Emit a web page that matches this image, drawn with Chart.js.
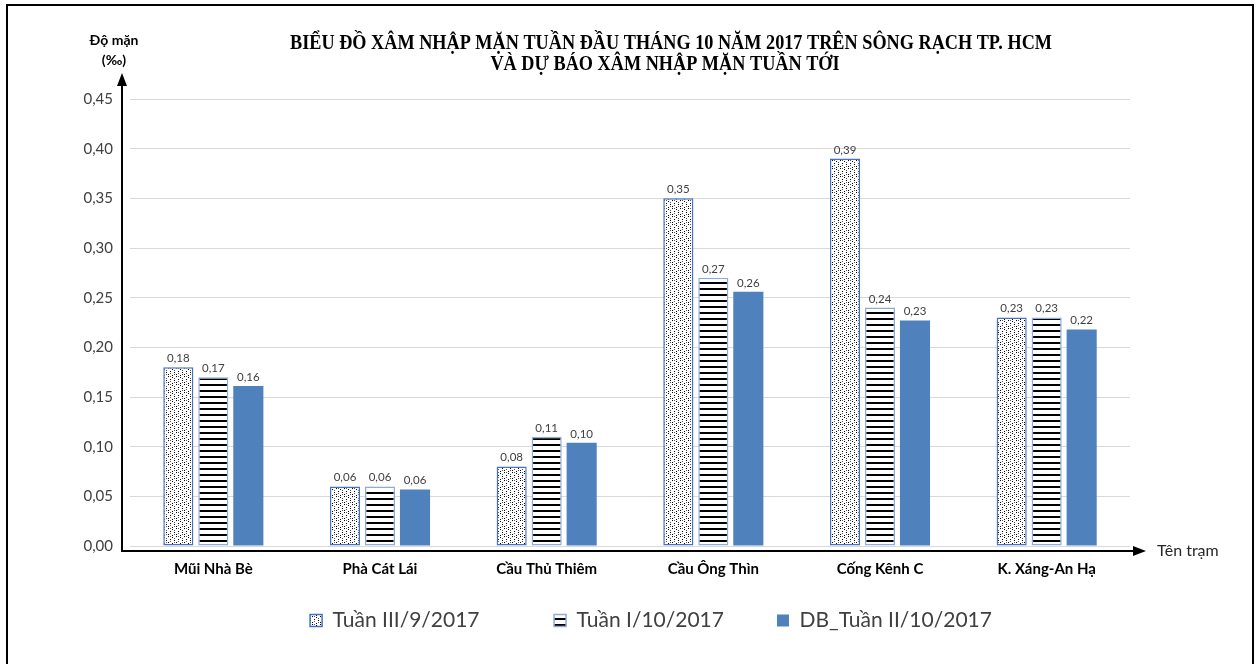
<!DOCTYPE html>
<html>
<head>
<meta charset="utf-8">
<script src="https://cdn.jsdelivr.net/npm/chart.js@4.4.0/dist/chart.umd.min.js"></script>
<style>
  html, body { margin: 0; padding: 0; background: #fff; }
  #wrap { width: 1256px; height: 664px; position: relative; }
</style>
</head>
<body>
<div id="wrap"><canvas id="chart" width="1256" height="664"></canvas></div>
<script>
// Chart data
const stations = ['Mũi Nhà Bè', 'Phà Cát Lái', 'Cầu Thủ Thiêm', 'Cầu Ông Thìn', 'Cống Kênh C', 'K. Xáng-An Hạ'];
const seriesNames = ['Tuần III/9/2017', 'Tuần I/10/2017', 'DB_Tuần II/10/2017'];
const week3Sep = [0.18, 0.06, 0.08, 0.35, 0.39, 0.23];
const week1Oct = [0.17, 0.06, 0.11, 0.27, 0.24, 0.23];
const forecastWeek2Oct = [0.161, 0.057, 0.104, 0.256, 0.227, 0.218];
const yTicks = [0, 0.05, 0.10, 0.15, 0.20, 0.25, 0.30, 0.35, 0.40, 0.45];

const titleLines = [
    'BIỂU ĐỒ XÂM NHẬP MẶN TUẦN ĐẦU THÁNG 10 NĂM 2017 TRÊN SÔNG RẠCH TP. HCM',
    'VÀ DỰ BÁO XÂM NHẬP MẶN TUẦN TỚI'
];

const FONT = 'Lato, "Liberation Sans", sans-serif';

// Fill patterns like the Excel ones
function dotPattern() {
    const c = document.createElement('canvas');
    c.width = 8; c.height = 8;
    const g = c.getContext('2d');
    g.fillStyle = '#fff';
    g.fillRect(0, 0, 8, 8);
    g.fillStyle = '#000';
    [[0, 0], [4, 1], [2, 3], [6, 4], [0, 6], [4, 7]].forEach(([x, y]) => g.fillRect(x, y, 1, 1));
    g.fillStyle = '#555';
    [[2, 0], [6, 2], [2, 5], [6, 6]].forEach(([x, y]) => g.fillRect(x, y, 1, 1));
    return g.createPattern(c, 'repeat');
}

function stripePattern() {
    const c = document.createElement('canvas');
    c.width = 6; c.height = 6;
    const g = c.getContext('2d');
    g.fillStyle = '#fff';
    g.fillRect(0, 0, 6, 6);
    g.fillStyle = '#000';
    g.fillRect(0, 0, 6, 2);
    return g.createPattern(c, 'repeat');
}

function fmt(v) {
    return v.toFixed(2).replace('.', ',');
}

// trailing spaces to spread the legend items like the original
const legendGaps = [12, 8, 0];

// Value labels above bars
const valueLabels = {
    id: 'valueLabels',
    afterDatasetsDraw(chart) {
        const ctx = chart.ctx;
        ctx.save();
        ctx.font = '11.5px ' + FONT;
        ctx.fillStyle = '#404040';
        ctx.textAlign = 'center';
        ctx.textBaseline = 'bottom';
        chart.data.datasets.forEach((ds, i) => {
            chart.getDatasetMeta(i).data.forEach((bar, j) => {
                ctx.fillText(fmt(ds.data[j]), bar.x, bar.y - 3);
            });
        });
        ctx.restore();
    }
};

// Title, axis arrows, axis captions and frame
const decorations = {
    id: 'decorations',
    afterDraw(chart) {
        const ctx = chart.ctx;
        ctx.save();

        // frame
        ctx.strokeStyle = '#000';
        ctx.lineWidth = 2;
        ctx.strokeRect(7, 5, 1246, 700);

        // title (condensed serif)
        ctx.fillStyle = '#000';
        ctx.textAlign = 'center';
        ctx.textBaseline = 'middle';
        ctx.font = 'bold 20px "Liberation Serif", serif';
        const sx = 762 / ctx.measureText(titleLines[0]).width;
        ctx.save();
        ctx.scale(sx, 1);
        ctx.fillText(titleLines[0], 671 / sx, 44);
        ctx.fillText(titleLines[1], 665 / sx, 65);
        ctx.restore();

        // axis arrows
        const ox = 122, oy = 551;
        ctx.lineWidth = 2;
        ctx.beginPath();
        ctx.moveTo(ox, oy);
        ctx.lineTo(ox, 82);
        ctx.moveTo(ox - 1, oy);
        ctx.lineTo(1136, oy);
        ctx.stroke();
        ctx.beginPath();
        ctx.moveTo(ox, 73);
        ctx.lineTo(ox - 5, 86);
        ctx.lineTo(ox + 5, 86);
        ctx.closePath();
        ctx.moveTo(1146, oy);
        ctx.lineTo(1133, oy - 5);
        ctx.lineTo(1133, oy + 5);
        ctx.closePath();
        ctx.fill();

        // axis captions
        ctx.font = 'bold 14px ' + FONT;
        ctx.fillText('Độ mặn', 114, 40);
        ctx.fillText('(‰)', 114, 60);
        ctx.textAlign = 'left';
        ctx.font = '16px ' + FONT;
        ctx.fillStyle = '#262626';
        ctx.fillText('Tên trạm', 1157, 551);

        ctx.restore();
    }
};

const chart = new Chart(document.getElementById('chart'), {
    type: 'bar',
    data: {
        labels: stations,
        datasets: [
            {
                label: seriesNames[0],
                data: week3Sep,
                backgroundColor: dotPattern(),
                borderColor: '#4472C4',
                borderWidth: 1.5,
                borderSkipped: false
            },
            {
                label: seriesNames[1],
                data: week1Oct,
                backgroundColor: stripePattern(),
                borderColor: '#8FAADC',
                borderWidth: 1.5,
                borderSkipped: false
            },
            {
                label: seriesNames[2],
                data: forecastWeek2Oct,
                backgroundColor: '#4F81BD',
                borderColor: '#4F81BD',
                borderWidth: 0
            }
        ]
    },
    options: {
        responsive: false,
        animation: false,
        layout: {
            padding: { top: 99, right: 0, left: 46, bottom: 23 }
        },
        datasets: {
            bar: {
                categoryPercentage: 0.63,
                barPercentage: 0.86
            }
        },
        plugins: {
            title: { display: false },
            tooltip: { enabled: false },
            legend: {
                position: 'bottom',
                labels: {
                    font: { family: FONT, size: 21 },
                    color: '#404040',
                    boxWidth: 12,
                    boxHeight: 12,
                    padding: 10,
                    generateLabels: (chart) => {
                        const items = Chart.defaults.plugins.legend.labels.generateLabels(chart);
                        items.forEach((it, i) => { it.text += ' '.repeat(legendGaps[i]); });
                        return items;
                    }
                }
            }
        },
        scales: {
            x: {
                grid: { display: false },
                border: { display: false },
                ticks: {
                    font: { family: FONT, size: 15, weight: 'bold' },
                    color: '#000',
                    padding: 6
                },
                afterFit: (scale) => { scale.height = 54; }
            },
            y: {
                min: 0,
                max: 0.45,
                afterBuildTicks: (scale) => {
                    scale.ticks = yTicks.map(v => ({ value: v }));
                },
                afterFit: (scale) => { scale.width = 84; },
                grid: { color: '#d9d9d9', drawTicks: false },
                border: { display: false },
                ticks: {
                    font: { family: FONT, size: 15 },
                    color: '#404040',
                    padding: 17,
                    callback: (v) => fmt(v)
                }
            },
            // empty right axis keeps the room where "Tên trạm" sits
            yRight: {
                position: 'right',
                grid: { display: false },
                border: { display: false },
                ticks: { display: false },
                afterFit: (scale) => { scale.width = 126; }
            }
        }
    },
    plugins: [valueLabels, decorations]
});
</script>
</body>
</html>
